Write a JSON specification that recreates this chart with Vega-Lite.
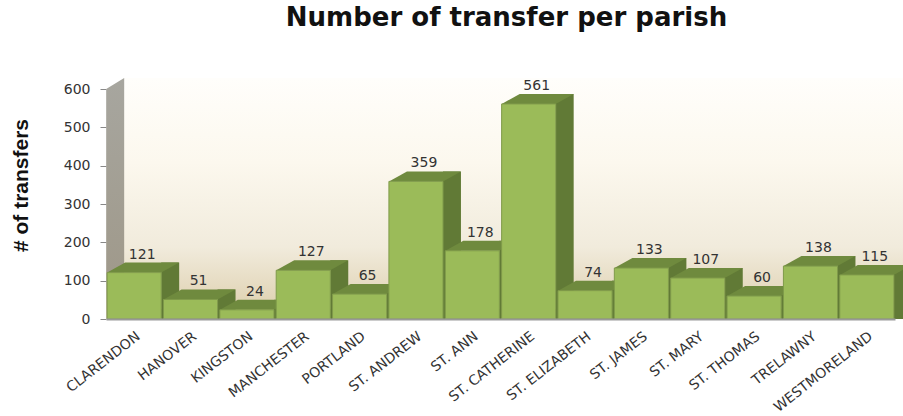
{"$schema":"https://vega.github.io/schema/vega-lite/v6.json","width":789,"height":230,"autosize":"none","padding":{"left":106,"top":89,"right":8,"bottom":97},"background":"white",
"title":{"text":"Number of transfer per parish","font":"DejaVu Sans","fontWeight":"bold","fontSize":26,"color":"#111111","anchor":"middle","dx":6,"offset":47},
"config":{"view":{"stroke":null},"axisY":{"tickCount":7}},
"data":{"values":[{"parish":"CLARENDON","transfers":121},{"parish":"HANOVER","transfers":51},{"parish":"KINGSTON","transfers":24},{"parish":"MANCHESTER","transfers":127},{"parish":"PORTLAND","transfers":65},{"parish":"ST. ANDREW","transfers":359},{"parish":"ST. ANN","transfers":178},{"parish":"ST. CATHERINE","transfers":561},{"parish":"ST. ELIZABETH","transfers":74},{"parish":"ST. JAMES","transfers":133},{"parish":"ST. MARY","transfers":107},{"parish":"ST. THOMAS","transfers":60},{"parish":"TRELAWNY","transfers":138},{"parish":"WESTMORELAND","transfers":115}]},
"encoding":{"x":{"field":"parish","type":"nominal","sort":null,"scale":{"paddingInner":0.04,"paddingOuter":0.02},"axis":{"title":null,"labelAngle":-38,"labelFont":"DejaVu Sans","labelFontSize":14,"labelColor":"#333333","ticks":false,"labelPadding":10,"labelAlign":"right","labelBaseline":"top","domainColor":"#999999","domainWidth":2,"zindex":1,"labelOverlap":false}}},
"layer":[
{"mark":{"type":"bar","width":{"band":1.06},"xOffset":18,"yOffset":-11,"fill":{"gradient":"linear","x1":0,"y1":0,"x2":0,"y2":1,"stops":[{"offset":0,"color":"#fffefb"},{"offset":0.35,"color":"#fcf8ee"},{"offset":0.7,"color":"#f1ebdc"},{"offset":1,"color":"#dccdaa"}]}},"encoding":{"y":{"datum":600,"type":"quantitative","scale":{"domain":[0,600]},"axis":{"title":"# of transfers","titleFont":"Liberation Sans","titleFontWeight":"bold","titleFontSize":21,"titleColor":"#111111","titleX":-75,"titleY":96,"grid":false,"domain":false,"tickColor":"#888888","tickSize":6,"labelFont":"DejaVu Sans","labelFontSize":14,"labelColor":"#333333","labelPadding":10}},"y2":{"datum":0}}},
{"transform":[{"filter":"datum.parish === 'CLARENDON'"}],"mark":{"type":"point","shape":"M-28,0 L-10,-11 L-10,-241 L-28,-230 Z","size":4,"filled":true,"opacity":1,"fill":{"gradient":"linear","x1":0,"y1":0,"x2":0,"y2":1,"stops":[{"offset":0,"color":"#a7a69f"},{"offset":0.8,"color":"#a09a8c"},{"offset":1,"color":"#bcb19a"}]}},"encoding":{"y":{"datum":0,"type":"quantitative"}}},
{"mark":{"type":"bar","width":18,"xOffset":36,"yOffset":-10,"fill":"#617a36"},"encoding":{"y":{"field":"transfers","type":"quantitative"},"y2":{"datum":0}}},
{"mark":{"type":"point","shape":"M27,0 L45,-10 L27,-10 Z","size":4,"filled":true,"opacity":1,"fill":"#617a36"},"encoding":{"y":{"datum":0,"type":"quantitative"}}},
{"mark":{"type":"point","shape":"M-27,0 L-9,-10 L45,-10 L27,0 Z","size":4,"filled":true,"opacity":1,"fill":"#6f8a3e"},"encoding":{"y":{"field":"transfers","type":"quantitative"}}},
{"mark":{"type":"bar","width":{"band":1},"fill":"#9bbb59","stroke":"#7f9a4a","strokeWidth":1},"encoding":{"y":{"field":"transfers","type":"quantitative"}}},
{"mark":{"type":"text","dx":8,"dy":-18,"baseline":"middle","font":"DejaVu Sans","fontSize":14,"fill":"#333333"},"encoding":{"y":{"field":"transfers","type":"quantitative"},"text":{"field":"transfers","type":"quantitative"}}}
]}
